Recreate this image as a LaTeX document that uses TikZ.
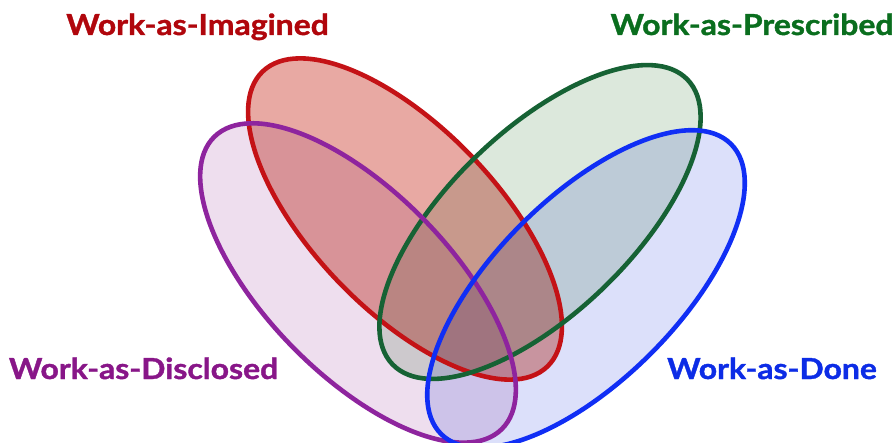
\documentclass[tikz,border=0pt]{standalone}
\usepackage{fontspec}
\setmainfont{Lato}[BoldFeatures={FakeBold=1.2}]
\definecolor{imgline}{RGB}{196,18,22}
\definecolor{imgfill}{RGB}{232,169,163}
\definecolor{imgtext}{RGB}{176,6,12}
\definecolor{prsline}{RGB}{22,98,52}
\definecolor{prsfill}{RGB}{220,232,220}
\definecolor{prstext}{RGB}{10,110,30}
\definecolor{disline}{RGB}{142,36,158}
\definecolor{disfill}{RGB}{238,222,238}
\definecolor{distext}{RGB}{136,22,136}
\definecolor{donline}{RGB}{16,46,245}
\definecolor{donfill}{RGB}{220,224,250}
\definecolor{dontext}{RGB}{12,44,230}
\newcommand{\widelbl}[1]{\scalebox{1.1}[1]{#1}}
\begin{document}
\begin{tikzpicture}[x=1pt,y=-1pt,
  ringline/.style={line width=4.6pt},
  lbl/.style={font=\bfseries\fontsize{29}{31}\selectfont, anchor=base, inner sep=0pt}]
\useasboundingbox (0,0) rectangle (896,443);
\fill[white] (0,0) rectangle (896,443);
\coordinate (cI) at (405,219);
\coordinate (cD) at (358,283);
\coordinate (cP) at (540,222);
\coordinate (cW) at (586,289);
\begin{scope}[blend mode=multiply]
\fill[imgfill, rotate around={-46:(cI)}] (cI) ellipse [x radius=205pt, y radius=91.5pt];
\fill[prsfill, rotate around={44:(cP)}] (cP) ellipse [x radius=205pt, y radius=91.5pt];
\fill[disfill, rotate around={-45.5:(cD)}] (cD) ellipse [x radius=205pt, y radius=91.5pt];
\fill[donfill, rotate around={45:(cW)}] (cW) ellipse [x radius=205pt, y radius=91.5pt];
\end{scope}
\draw[ringline, imgline, rotate around={-46:(cI)}] (cI) ellipse [x radius=205pt, y radius=91.5pt];
\draw[ringline, prsline, rotate around={44:(cP)}] (cP) ellipse [x radius=205pt, y radius=91.5pt];
\draw[ringline, disline, rotate around={-45.5:(cD)}] (cD) ellipse [x radius=205pt, y radius=91.5pt];
\draw[ringline, donline, rotate around={45:(cW)}] (cW) ellipse [x radius=205pt, y radius=91.5pt];
\node[lbl, text=imgtext] (tI) at (197.5,35) {\widelbl{Work-as-Imagined}};
\node[lbl, text=prstext] (tP) at (752,35) {\widelbl{Work-as-Prescribed}};
\node[lbl, text=distext] (tD) at (143.5,379) {\widelbl{Work-as-Disclosed}};
\node[lbl, text=dontext] (tW) at (772,379) {\widelbl{Work-as-Done}};
\end{tikzpicture}
\end{document}
